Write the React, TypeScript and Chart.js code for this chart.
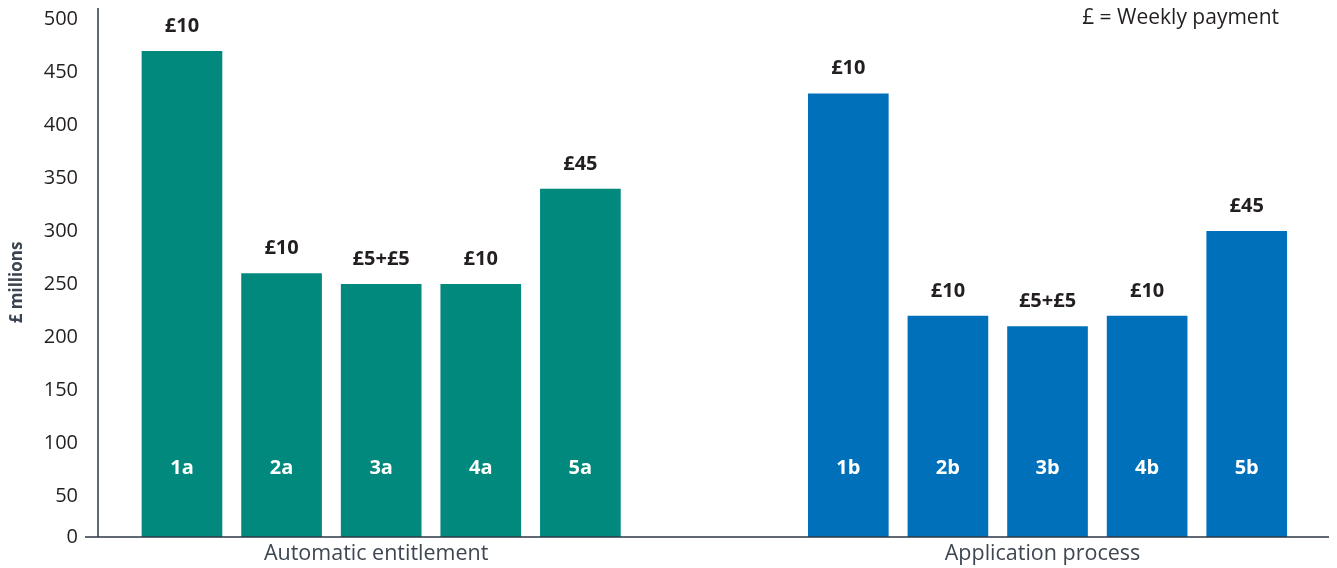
import React, { useEffect, useRef } from "react";
import { Chart, registerables } from "chart.js";

Chart.register(...registerables);

const categoriesA = ["1a", "2a", "3a", "4a", "5a"];
const valuesA = [470, 260, 250, 250, 340];
const paymentsA = ["£10", "£10", "£5+£5", "£10", "£45"];

const categoriesB = ["1b", "2b", "3b", "4b", "5b"];
const valuesB = [430, 220, 210, 220, 300];
const paymentsB = ["£10", "£10", "£5+£5", "£10", "£45"];

const groupLabels = ["Automatic entitlement", "Application process"];
const yTickValues = [0, 50, 100, 150, 200, 250, 300, 350, 400, 450, 500];
const yTitle = "£ millions";
const legendNote = "£ = Weekly payment";

const TEAL = "#00897c";
const BLUE = "#0070ba";
const FONT = "'Open Sans', sans-serif";
const GROUP_B_START = 6.69;
const Y_MIN = 11.25;
const Y_MAX = 511;

export default function App() {
  const ref = useRef<HTMLCanvasElement>(null);

  useEffect(() => {
    if (!ref.current) return;

    const labelPlugin = {
      id: "labels",
      afterDatasetsDraw(chart: any) {
        const ctx = chart.ctx;
        const area = chart.chartArea;
        const sets = [
          { cats: categoriesA, pays: paymentsA },
          { cats: categoriesB, pays: paymentsB },
        ];
        ctx.save();
        // axes
        ctx.strokeStyle = "#2d3846";
        ctx.lineWidth = 1.5;
        ctx.beginPath();
        ctx.moveTo(area.left, area.top);
        ctx.lineTo(area.left, area.bottom);
        ctx.moveTo(area.left - 13, area.bottom);
        ctx.lineTo(area.right, area.bottom);
        ctx.stroke();

        ctx.textAlign = "center";
        ctx.textBaseline = "middle";
        chart.data.datasets.forEach((ds: any, di: number) => {
          const meta = chart.getDatasetMeta(di);
          const info = sets[di];
          let sumX = 0;
          meta.data.forEach((el: any, i: number) => {
            sumX += el.x;
            ctx.fillStyle = "#231f20";
            ctx.font = `bold 20px ${FONT}`;
            ctx.fillText(info.pays[i], el.x, el.y - 25);
            ctx.fillStyle = "#ffffff";
            ctx.fillText(info.cats[i], el.x, area.bottom - 69);
          });
          const cx = sumX / meta.data.length - 5;
          ctx.fillStyle = "#3d4651";
          ctx.font = `21.5px ${FONT}`;
          ctx.fillText(groupLabels[di], cx, area.bottom + 17);
        });

        // legend note
        ctx.fillStyle = "#231f20";
        ctx.font = `21px ${FONT}`;
        ctx.textAlign = "right";
        ctx.fillText(legendNote, 1279, 18);

        // y title
        ctx.translate(17.5, (area.top + area.bottom) / 2 + 10);
        ctx.rotate(-Math.PI / 2);
        ctx.textAlign = "center";
        ctx.fillStyle = "#3a4450";
        ctx.font = `bold 17px ${FONT}`;
        ctx.fillText(yTitle, 0, 0);
        ctx.restore();
      },
    };

    const chart = new Chart(ref.current, {
      type: "bar",
      data: {
        datasets: [
          {
            data: valuesA.map((v, i) => ({ x: i, y: v })),
            backgroundColor: TEAL,
            barThickness: 80,
            grouped: false,
          },
          {
            data: valuesB.map((v, i) => ({ x: GROUP_B_START + i, y: v })),
            backgroundColor: BLUE,
            barThickness: 80,
            grouped: false,
          },
        ],
      },
      options: {
        animation: false,
        responsive: true,
        maintainAspectRatio: false,
        layout: { padding: { top: 8, right: 8, left: 0, bottom: 0 } },
        plugins: {
          legend: { display: false },
          tooltip: { enabled: false },
          title: { display: false },
        },
        scales: {
          x: {
            type: "linear",
            offset: false,
            min: -0.843,
            max: 11.516,
            grid: { display: false, offset: false },
            border: { display: false },
            ticks: { display: false },
            afterFit(scale: any) {
              scale.height = 31;
              scale.paddingLeft = 0;
              scale.paddingRight = 0;
            },
          },
          y: {
            type: "linear",
            min: Y_MIN,
            max: Y_MAX,
            grid: { display: false, drawTicks: false },
            border: { display: false },
            afterBuildTicks(scale: any) {
              scale.ticks = yTickValues.map((v) => ({ value: v === 0 ? Y_MIN : v }));
            },
            ticks: {
              padding: 20,
              color: "#231f20",
              font: { family: FONT, size: 20 },
              callback: (v: any) => (v < 20 ? "0" : String(v)),
            },
            afterFit(scale: any) {
              scale.width = 98;
              scale.paddingTop = 0;
              scale.paddingBottom = 0;
            },
          },
        },
      },
      plugins: [labelPlugin],
    });
    return () => chart.destroy();
  }, []);

  return (
    <div style={{ position: "absolute", left: 0, top: 0, width: 1337, height: 568, background: "#fff" }}>
      <canvas ref={ref} />
    </div>
  );
}
